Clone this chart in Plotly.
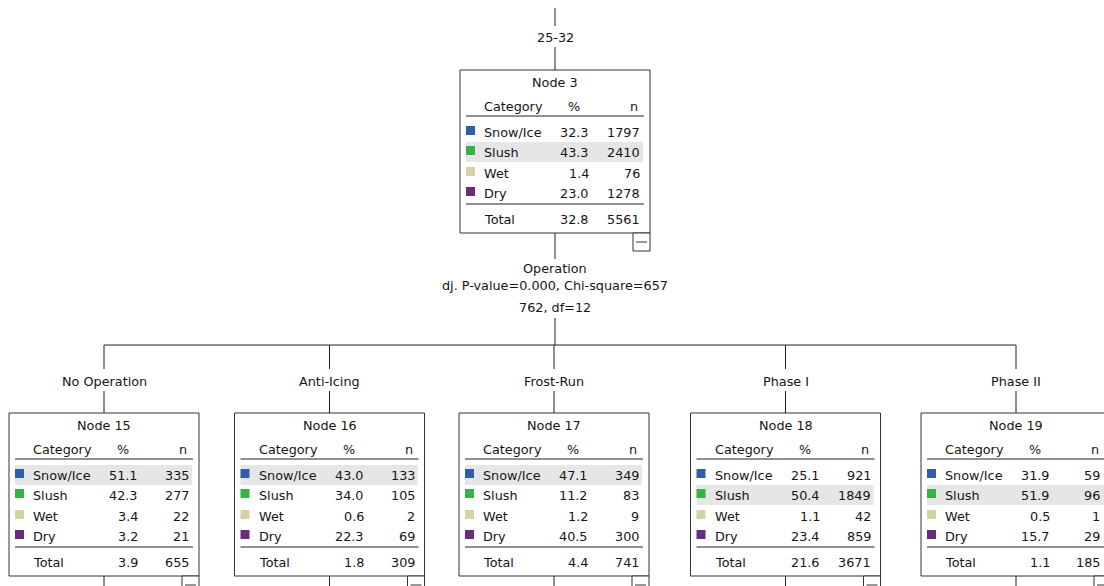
import plotly.graph_objects as go

# ---------------- data ----------------
categories = ["Snow/Ice", "Slush", "Wet", "Dry"]
category_colors = ["#2F5FA8", "#34B443", "#D6D3A3", "#6A2D7C"]

parent_edge_label = "25-32"
parent_id = 3
parent_pct = [32.3, 43.3, 1.4, 23.0]
parent_n = [1797, 2410, 76, 1278]
parent_total_pct = 32.8
parent_total_n = 5561

split_variable = "Operation"
split_stats = ["dj. P-value=0.000, Chi-square=657", "762, df=12"]

child_ids = [15, 16, 17, 18, 19]
child_labels = ["No Operation", "Anti-Icing", "Frost-Run", "Phase I", "Phase II"]
child_pct = [
    [51.1, 42.3, 3.4, 3.2],
    [43.0, 34.0, 0.6, 22.3],
    [47.1, 11.2, 1.2, 40.5],
    [25.1, 50.4, 1.1, 23.4],
    [31.9, 51.9, 0.5, 15.7],
]
child_n = [
    [335, 277, 22, 21],
    [133, 105, 2, 69],
    [349, 83, 9, 300],
    [921, 1849, 42, 859],
    [59, 96, 1, 29],
]
child_total_pct = [3.9, 1.8, 4.4, 21.6, 1.1]
child_total_n = [655, 309, 741, 3671, 185]

# ---------------- layout geometry ----------------
W, H = 1104, 586
BOX_W, BOX_H = 190, 163
PARENT_CX, PARENT_TOP = 555, 70
CHILD_CX = [104, 329.5, 554, 785.5, 1016]
CHILD_TOP = 413
BAR_Y = 345

FONT = dict(family="DejaVu Sans", size=12.8, color="#151515")
LINE = dict(color="#222222", width=1)
BOXLINE = dict(color="#333333", width=1)

shapes = []
annotations = []


def line(x0, y0, x1, y1, style=LINE):
    shapes.append(dict(type="line", xref="x", yref="y", x0=x0, y0=y0, x1=x1, y1=y1, line=style))


def text(x, y, s, anchor="center"):
    annotations.append(dict(x=min(x, W - 2), y=y, xref="x", yref="y", text=s, showarrow=False,
                            xanchor=anchor, yanchor="middle", font=FONT))


def minus_box(x_right, y_top):
    shapes.append(dict(type="rect", xref="x", yref="y", x0=x_right - 17, x1=x_right,
                       y0=y_top, y1=y_top + 18, line=BOXLINE, fillcolor="white"))
    line(x_right - 14, y_top + 9, x_right - 3, y_top + 9, BOXLINE)


def node(cx, top, nid, pcts, ns, tot_pct, tot_n):
    L = cx - BOX_W / 2
    R = cx + BOX_W / 2
    shapes.append(dict(type="rect", xref="x", yref="y", x0=L, x1=R, y0=top, y1=top + BOX_H,
                       line=BOXLINE, fillcolor="white", layer="below"))
    row_y = [top + 62, top + 82, top + 103, top + 123]
    best = max(range(len(pcts)), key=lambda i: pcts[i])
    shapes.append(dict(type="rect", xref="x", yref="y", x0=L + 6, x1=R - 7,
                       y0=row_y[best] - 10, y1=row_y[best] + 10,
                       line=dict(width=0), fillcolor="#E6E6E6", layer="below"))
    text(cx, top + 12, f"Node {nid}")
    text(L + 22, top + 36, "Category", "left")
    text(L + 114, top + 36, "%")
    text(L + 180, top + 36, "n", "right")
    line(L + 6, top + 46, R - 6, top + 46)
    for i, cat in enumerate(categories):
        y = row_y[i]
        shapes.append(dict(type="rect", xref="x", yref="y", x0=L + 6, x1=L + 15,
                           y0=y - 6, y1=y + 3, line=dict(width=0),
                           fillcolor=category_colors[i]))
        text(L + 22, y, cat, "left")
        text(L + 131, y, f"{pcts[i]:.1f}", "right")
        text(L + 182, y, f"{ns[i]}", "right")
    line(L + 6, top + 134, R - 6, top + 134)
    text(L + 22, top + 149, "Total", "left")
    text(L + 131, top + 149, f"{tot_pct:.1f}", "right")
    text(L + 182, top + 149, f"{tot_n}", "right")
    minus_box(R, top + BOX_H)


# parent incoming edge
line(PARENT_CX, 8, PARENT_CX, 26)
text(PARENT_CX, 37, parent_edge_label)
line(PARENT_CX, 47, PARENT_CX, PARENT_TOP)
node(PARENT_CX, PARENT_TOP, parent_id, parent_pct, parent_n, parent_total_pct, parent_total_n)

# split description
line(PARENT_CX, PARENT_TOP + BOX_H, PARENT_CX, 259)
text(PARENT_CX, 268, split_variable)
text(PARENT_CX, 285, split_stats[0])
text(PARENT_CX, 307, split_stats[1])
line(PARENT_CX, 318, PARENT_CX, BAR_Y)
line(CHILD_CX[0], BAR_Y, CHILD_CX[-1], BAR_Y)

for k, cx in enumerate(CHILD_CX):
    line(cx, BAR_Y, cx, 369)
    text(cx, 381, child_labels[k])
    line(cx, 391, cx, CHILD_TOP)
    node(cx, CHILD_TOP, child_ids[k], child_pct[k], child_n[k], child_total_pct[k], child_total_n[k])
    line(cx, CHILD_TOP + BOX_H, cx, H + 5)

fig = go.Figure()
fig.add_trace(go.Scatter(x=[0, W], y=[0, H], mode="markers", marker=dict(opacity=0),
                         hoverinfo="skip", showlegend=False))
fig.update_layout(
    width=W, height=H, margin=dict(l=0, r=0, t=0, b=0),
    paper_bgcolor="white", plot_bgcolor="white",
    xaxis=dict(range=[0, W], visible=False, fixedrange=True),
    yaxis=dict(range=[H, 0], visible=False, fixedrange=True),
    shapes=shapes, annotations=annotations, showlegend=False,
)
fig.write_html("out.html", config={"displayModeBar": False},
               post_script="document.body.style.margin='0';document.body.style.overflow='hidden';")
